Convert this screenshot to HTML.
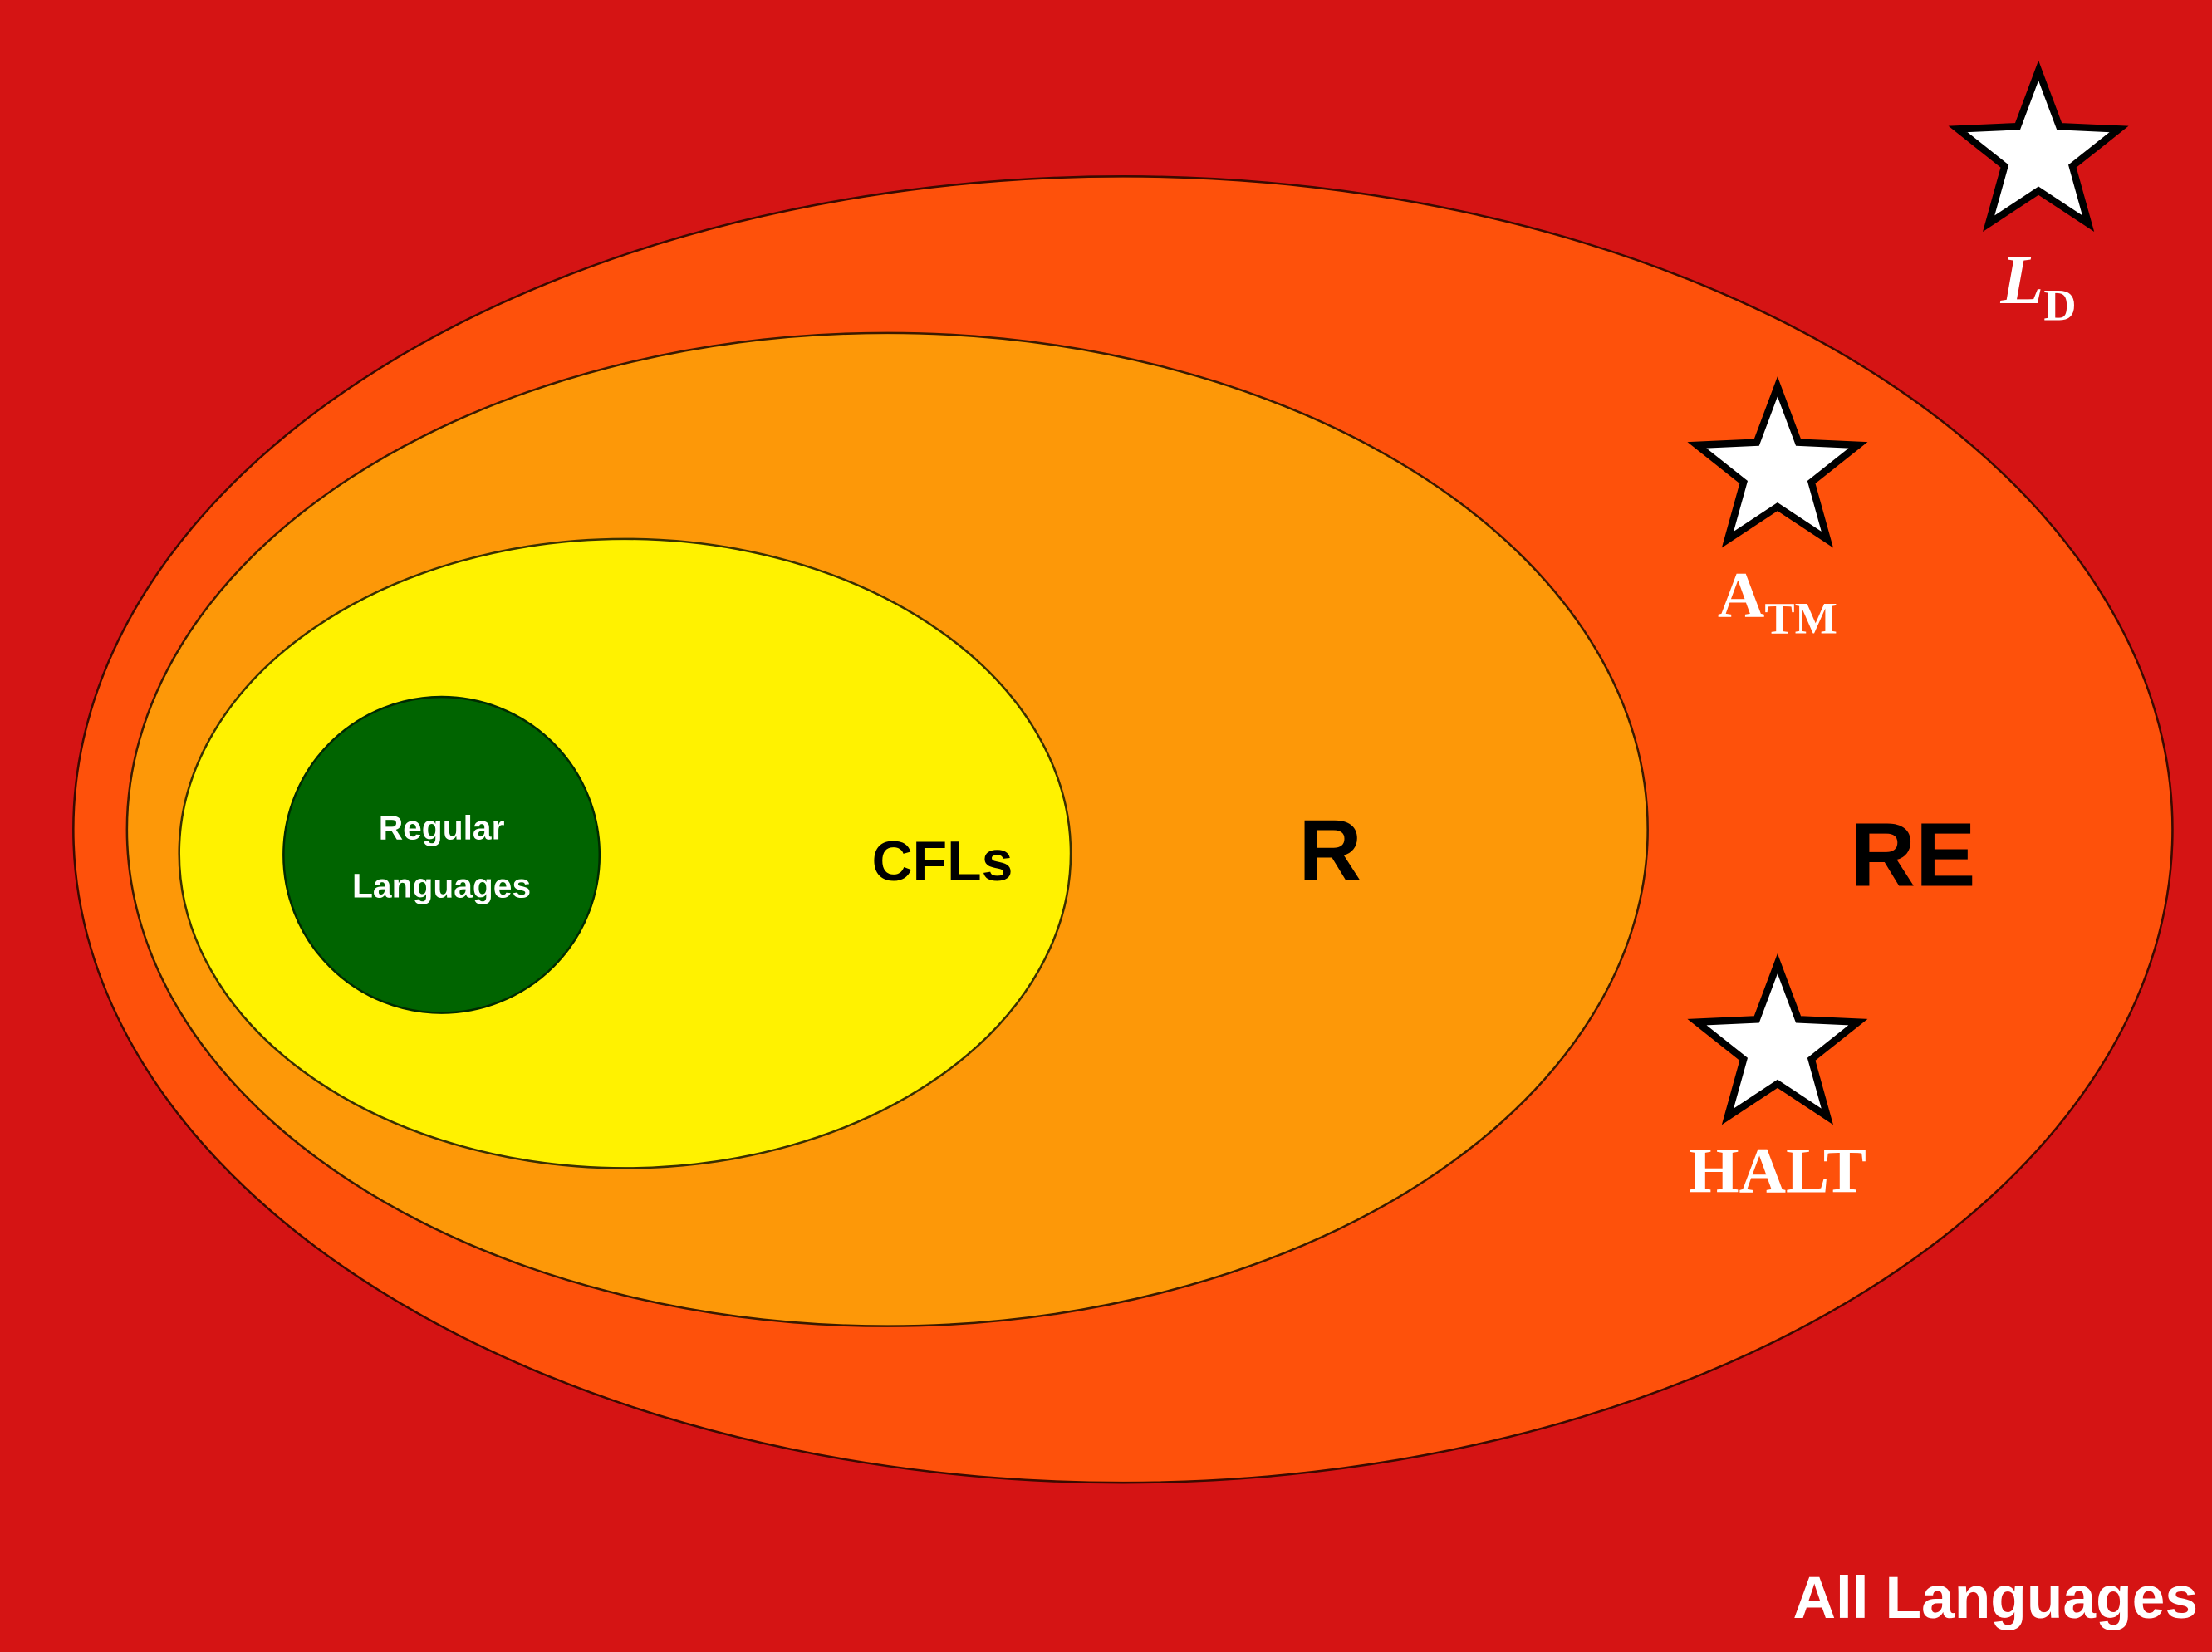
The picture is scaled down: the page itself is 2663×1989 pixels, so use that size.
<!DOCTYPE html>
<html><head><meta charset="utf-8"><style>
html,body{margin:0;padding:0;background:#d51414;}
svg{display:block;}
</style></head><body>
<svg width="2663" height="1989" viewBox="0 0 1568 1171" preserveAspectRatio="none">
<rect x="0" y="0" width="1568" height="1171" fill="#d51414"/>
<ellipse cx="796" cy="588" rx="744" ry="463" fill="#fe510b" stroke="#3a0a00" stroke-width="1.5"/>
<ellipse cx="629" cy="588" rx="539" ry="352" fill="#fd9808" stroke="#3a1a00" stroke-width="1.5"/>
<ellipse cx="443" cy="605" rx="316" ry="223" fill="#fff200" stroke="#3a3000" stroke-width="1.5"/>
<circle cx="313" cy="606" r="112" fill="#006400" stroke="#002a00" stroke-width="1.5"/>
<g font-family="'Liberation Sans', sans-serif" font-weight="bold" text-anchor="middle">
<text x="313" y="595" font-size="24" fill="#fff">Regular</text>
<text x="313" y="636" font-size="24" fill="#fff">Languages</text>
<text x="668" y="624" font-size="40" fill="#000">CFLs</text>
<text x="943" y="624" font-size="62" fill="#000">R</text>
<text x="1356" y="628" font-size="64" fill="#000">RE</text>
<text x="1558" y="1147" font-size="42" fill="#fff" text-anchor="end">All Languages</text>
</g>
<g fill="#fff" stroke="#000" stroke-width="5" stroke-linejoin="miter">
<polygon id="st1" points=""/>
<polygon id="st2" points=""/>
<polygon id="st3" points=""/>
</g>
<g font-family="'Liberation Serif', serif" font-weight="bold" fill="#fff" text-anchor="middle">
<text x="1445" y="215" font-size="50"><tspan font-style="italic">L</tspan><tspan font-size="32" dy="12">D</tspan></text>
<text x="1260" y="437" font-size="46">A<tspan font-size="32" dy="12">TM</tspan></text>
<text x="1260" y="845" font-size="46">HALT</text>
</g>
<script>
function star(id,cx,cy,R){var r=R*0.42,p=[];for(var i=0;i<10;i++){var a=-Math.PI/2+i*Math.PI/5,rr=i%2?r:R;p.push((cx+rr*Math.cos(a)).toFixed(1)+','+(cy+rr*Math.sin(a)).toFixed(1));}document.getElementById(id).setAttribute('points',p.join(' '));}
star('st1',1445,110,60);
star('st2',1260,334,60);
star('st3',1260,743,60);
</script>
</svg>
</body></html>
